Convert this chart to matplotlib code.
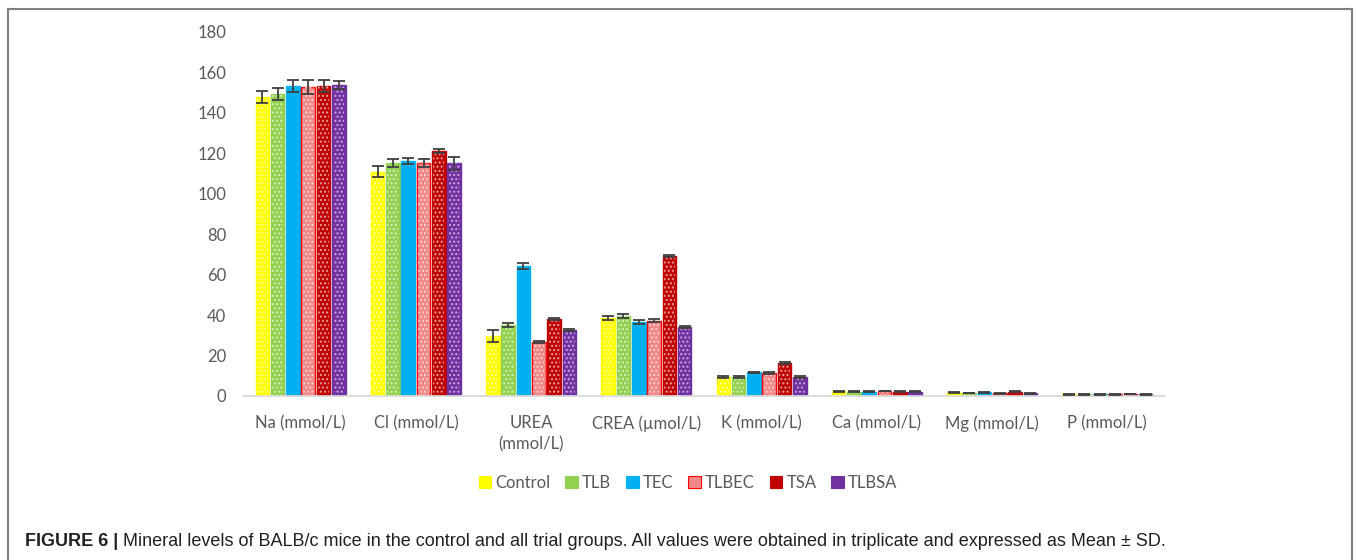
import matplotlib
matplotlib.use("Agg")
import matplotlib.pyplot as plt
from matplotlib.patches import Patch
from matplotlib.lines import Line2D
import numpy as np

categories = ["Na (mmol/L)", "Cl (mmol/L)", "UREA\n(mmol/L)", "CREA (µmol/L)",
              "K (mmol/L)", "Ca (mmol/L)", "Mg (mmol/L)", "P (mmol/L)"]
groups = ["Control", "TLB", "TEC", "TLBEC", "TSA", "TLBSA"]

control = [148.0, 111.0, 29.7, 38.6, 9.3, 2.3, 1.6, 0.8]
tlb     = [149.5, 115.3, 35.2, 39.6, 9.3, 2.2, 1.5, 0.8]
tec     = [153.5, 116.0, 64.4, 36.7, 11.7, 2.2, 1.9, 0.8]
tlbec   = [153.0, 115.0, 26.7, 37.3, 11.5, 2.5, 1.3, 0.8]
tsa     = [153.2, 121.3, 38.0, 69.3, 16.3, 2.2, 2.1, 1.1]
tlbsa   = [154.0, 115.0, 32.7, 34.2, 9.4, 2.2, 1.4, 0.8]

control_sd = [3.0, 2.9, 3.0, 1.0, 0.6, 0.2, 0.2, 0.1]
tlb_sd     = [3.0, 2.0, 1.0, 1.0, 0.4, 0.2, 0.2, 0.1]
tec_sd     = [3.0, 1.5, 1.5, 1.0, 0.4, 0.2, 0.2, 0.1]
tlbec_sd   = [3.5, 2.0, 0.5, 0.8, 0.4, 0.2, 0.2, 0.1]
tsa_sd     = [3.0, 1.0, 0.5, 0.5, 0.5, 0.2, 0.2, 0.1]
tlbsa_sd   = [2.0, 3.0, 0.5, 0.5, 0.5, 0.2, 0.2, 0.1]

series = [control, tlb, tec, tlbec, tsa, tlbsa]
errors = [control_sd, tlb_sd, tec_sd, tlbec_sd, tsa_sd, tlbsa_sd]

# fill colour, edge colour, dot pattern colour (None = plain fill)
styles = [
    ("#FFFF00", "#FFFF00", "#FFFFA0"),
    ("#92D050", "#92D050", "#D8EEC0"),
    ("#00B0F0", "#00B0F0", None),
    ("#F08888", "#FF0000", "#FFD0D0"),
    ("#C00000", "#C00000", "#E8A0A0"),
    ("#7030A0", "#7030A0", "#C8A8E0"),
]

plt.rcParams["font.family"] = ["Lato", "DejaVu Sans"]
plt.rcParams["hatch.linewidth"] = 1.0

fig = plt.figure(figsize=(13.57, 5.60), dpi=100)
ax = fig.add_axes([243 / 1357, (560 - 396) / 560, (1165 - 243) / 1357, (396 - 32) / 560])

x = np.arange(len(categories))
step = 0.133
width = 0.118
for i, (vals, sd, (fc, ec, hc)) in enumerate(zip(series, errors, styles)):
    pos = x + (i - 2.5) * step
    ax.bar(pos, vals, width, color=fc, edgecolor=ec, linewidth=1.0, zorder=2)
    if hc is not None:
        ax.bar(pos, vals, width * 0.8, facecolor="none", edgecolor=hc,
               linewidth=0, hatch="....", zorder=3)
    ax.errorbar(pos, vals, yerr=sd, fmt="none", ecolor="#404040",
                elinewidth=1.3, capsize=4, capthick=1.3, zorder=4)

ax.set_xlim(-0.5, len(categories) - 0.5)
ax.set_ylim(0, 180)
ax.set_yticks(np.arange(0, 181, 20))
ax.set_xticks(x)
ax.set_xticklabels(categories, linespacing=1.4)
ax.tick_params(axis="both", length=0, labelsize=12, labelcolor="#595959")
ax.tick_params(axis="x", pad=14)
ax.tick_params(axis="y", pad=12)
for s in ["top", "right", "left"]:
    ax.spines[s].set_visible(False)
ax.spines["bottom"].set_color("#D9D9D9")
ax.spines["bottom"].set_linewidth(1.3)
ax.set_facecolor("none")

handles = []
for name, (fc, ec, hc) in zip(groups, styles):
    handles.append(Patch(facecolor=fc, edgecolor=ec, linewidth=0.8, label=name))
fig.legend(handles=handles, loc="center", bbox_to_anchor=(688 / 1357, 1 - 483 / 560),
           ncol=6, frameon=False, fontsize=12, handlelength=0.75, handleheight=0.75,
           handletextpad=0.25, columnspacing=0.9, labelcolor="#595959")

# figure frame (left, top and right edges)
fc = "#808080"
fig.add_artist(Line2D([8 / 1357, 8 / 1357], [0, 1 - 9 / 560], transform=fig.transFigure,
                      color=fc, lw=1.5))
fig.add_artist(Line2D([8 / 1357, 1352 / 1357], [1 - 9 / 560, 1 - 9 / 560],
                      transform=fig.transFigure, color=fc, lw=1.5))
fig.add_artist(Line2D([1352 / 1357, 1352 / 1357], [0, 1 - 9 / 560], transform=fig.transFigure,
                      color=fc, lw=1.5))

cap_font = ["Liberation Sans Narrow", "Liberation Sans", "DejaVu Sans"]
t1 = fig.text(25 / 1357, 1 - 541 / 560, "FIGURE 6 |", fontsize=13, fontweight="bold",
              family=cap_font, color="#231F20", va="center", ha="left")
fig.canvas.draw()
bb = t1.get_window_extent()
fig.text((bb.x1 + 5) / 1357, 1 - 541 / 560,
         "Mineral levels of BALB/c mice in the control and all trial groups. All values were "
         "obtained in triplicate and expressed as Mean \u00b1 SD.",
         fontsize=13, family=cap_font, color="#231F20", va="center", ha="left")

fig.savefig("out.png", dpi=100)
